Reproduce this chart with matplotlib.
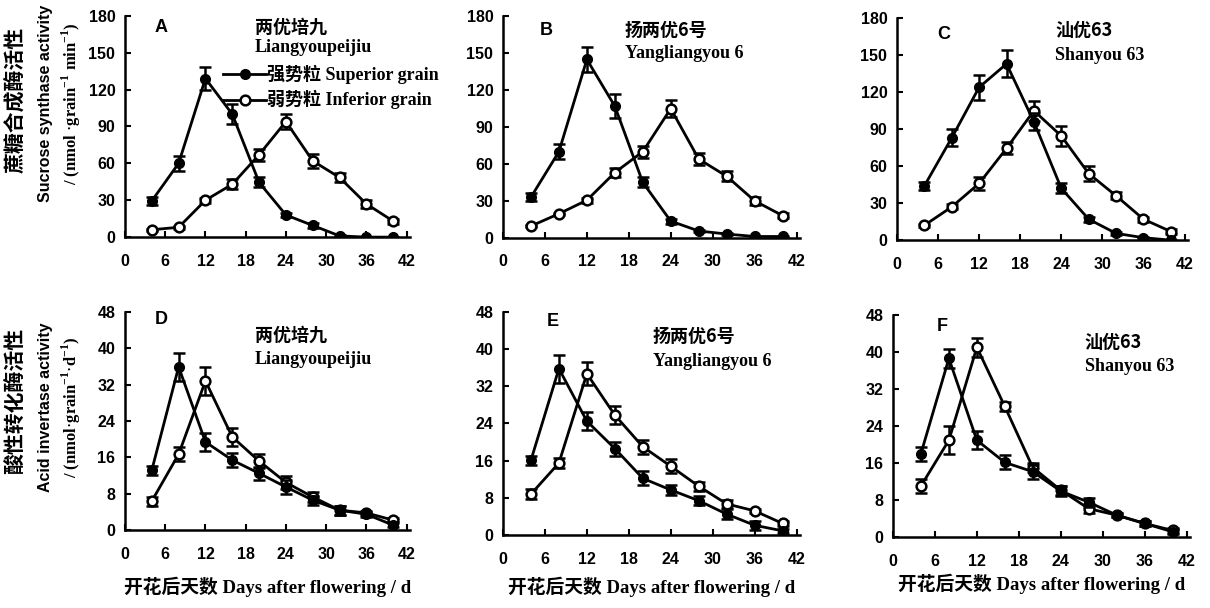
import matplotlib.pyplot as plt

plt.rcParams['font.family'] = ['Liberation Sans', 'Noto Sans CJK SC']

# 开花后天数
days = [4, 8, 12, 16, 20, 24, 28, 32, 36, 40]

# 蔗糖合成酶活性 (A, B, C)
ss_sup_A = [29.5, 60, 129, 100, 44.5, 18, 9.5, 1, 0, 0]
ss_sup_A_err = [3, 6, 9, 8, 4, 2, 2, 1, 0.5, 0.5]
ss_inf_A = [6, 8, 30, 43, 67, 94, 62, 48.5, 27, 13]
ss_inf_A_err = [1, 1, 2, 4, 5, 6, 6, 4, 3, 2]

ss_sup_B = [33, 70, 145, 107, 45, 13.5, 5.5, 3, 1, 1]
ss_sup_B_err = [3, 6, 10, 10, 4, 2, 1, 1, 0.5, 0.5]
ss_inf_B = [9.5, 19.5, 30.5, 53, 70, 105, 64, 50, 30, 18]
ss_inf_B_err = [1, 1, 2, 4, 5, 7, 5, 4, 3, 2]

ss_sup_C = [44, 83, 124, 143, 96, 42, 17, 5.5, 2, 0]
ss_sup_C_err = [3, 7, 10, 11, 7, 4, 2, 1, 0.5, 0.5]
ss_inf_C = [12, 27, 46, 74.5, 105, 84.5, 54, 36, 17, 7]
ss_inf_C_err = [1, 2, 5, 5, 8, 8, 6, 3, 2, 2]

# 酸性转化酶活性 (D, E, F)
ai_sup_D = [13.2, 35.9, 19.4, 15.4, 12.5, 9.5, 6.6, 4.4, 3.5, 1.1]
ai_sup_D_err = [1, 3, 2, 1.5, 1.5, 1.5, 1, 1, 0.5, 0.5]
ai_inf_D = [6.4, 16.7, 32.8, 20.5, 15.2, 10.5, 7.3, 4.4, 3.8, 2.2]
ai_inf_D_err = [1, 1.5, 3, 2, 1.5, 1.5, 1, 1, 0.5, 0.5]

ai_sup_E = [16.1, 35.8, 24.5, 18.6, 12.2, 9.7, 7.4, 4.5, 2.1, 0.9]
ai_sup_E_err = [1, 3, 2, 1.5, 1.5, 1, 1, 1, 1, 0.5]
ai_inf_E = [8.8, 15.5, 34.7, 25.8, 19.0, 14.8, 10.5, 6.7, 5.2, 2.5]
ai_inf_E_err = [1, 1, 2.5, 2, 1.5, 1.5, 1, 0.8, 0.5, 0.5]

ai_sup_F = [18, 38.6, 20.9, 16.1, 14.1, 9.9, 7.5, 4.7, 2.9, 1.1]
ai_sup_F_err = [1.5, 2, 2, 1.5, 1.5, 1, 1, 0.5, 0.5, 0.5]
ai_inf_F = [11, 20.9, 41, 28.2, 15, 10.1, 6.1, 4.7, 2.9, 1.4]
ai_inf_F_err = [1.5, 3, 2, 1, 1, 1, 1, 0.5, 0.5, 0.5]

x_ticks = [0, 6, 12, 18, 24, 30, 36, 42]
ss_ticks = [0, 30, 60, 90, 120, 150, 180]
ai_ticks = [0, 8, 16, 24, 32, 40, 48]

cn = 'Noto Sans CJK SC'
serif = ['Liberation Serif', 'Noto Sans CJK SC']

fig = plt.figure(figsize=(12.1, 6.08), dpi=100)

# 面板位置 (left, bottom, width, height)
pos = {
    'A': [0.1033, 0.610, 0.2355, 0.364],
    'B': [0.4157, 0.609, 0.2455, 0.364],
    'C': [0.7413, 0.605, 0.2405, 0.365],
    'D': [0.1033, 0.128, 0.2355, 0.359],
    'E': [0.4157, 0.120, 0.2455, 0.367],
    'F': [0.7380, 0.117, 0.2455, 0.365],
}
xlabel_pad = {'D': 11, 'E': 7, 'F': 4}

panels = [
    ('A', ss_sup_A, ss_sup_A_err, ss_inf_A, ss_inf_A_err, ss_ticks, '两优培九', 'Liangyoupeijiu', (0.105, 0.945), (0.456, 0.95, 0.855)),
    ('B', ss_sup_B, ss_sup_B_err, ss_inf_B, ss_inf_B_err, ss_ticks, '扬两优6号', 'Yangliangyou 6', (0.125, 0.937), (0.41, 0.937, 0.833)),
    ('C', ss_sup_C, ss_sup_C_err, ss_inf_C, ss_inf_C_err, ss_ticks, '汕优63', 'Shanyou 63', (0.137, 0.925), (0.543, 0.946, 0.83)),
    ('D', ai_sup_D, ai_sup_D_err, ai_inf_D, ai_inf_D_err, ai_ticks, '两优培九', 'Liangyoupeijiu', (0.105, 0.963), (0.456, 0.894, 0.78)),
    ('E', ai_sup_E, ai_sup_E_err, ai_inf_E, ai_inf_E_err, ai_ticks, '扬两优6号', 'Yangliangyou 6', (0.148, 0.955), (0.505, 0.888, 0.776)),
    ('F', ai_sup_F, ai_sup_F_err, ai_inf_F, ai_inf_F_err, ai_ticks, '汕优63', 'Shanyou 63', (0.148, 0.946), (0.646, 0.874, 0.766)),
]

for name, sup, sup_err, inf, inf_err, yt, cn_name, en_name, lpos, tpos in panels:
    ax = fig.add_axes(pos[name])
    ax.errorbar(days, inf, yerr=inf_err, color='black', lw=2, marker='o', ms=7,
                mfc='white', mec='black', mew=1.8, capsize=4, elinewidth=1.8,
                capthick=1.8, zorder=2)
    ax.errorbar(days, sup, yerr=sup_err, color='black', lw=2, marker='o', ms=7,
                mfc='black', mec='black', capsize=4, elinewidth=1.8,
                capthick=1.8, zorder=3)
    ax.set_xlim(0, 42.5)
    ax.set_ylim(0, yt[-1])
    ax.set_xticks(x_ticks)
    ax.set_yticks(yt)
    ax.spines['top'].set_visible(False)
    ax.spines['right'].set_visible(False)
    ax.spines['left'].set_linewidth(1.8)
    ax.spines['bottom'].set_linewidth(1.8)
    ax.tick_params(direction='in', length=4, width=1.5, labelsize=11.5)
    ax.tick_params(axis='x', pad=12)
    ax.tick_params(axis='y', pad=7)
    for lab in ax.get_xticklabels() + ax.get_yticklabels():
        lab.set_fontweight('bold')
    ax.text(lpos[0], lpos[1], name, transform=ax.transAxes, fontsize=13,
            fontweight='bold', ha='left', va='center')
    ax.text(tpos[0], tpos[1], cn_name, transform=ax.transAxes, fontsize=13,
            family=cn, fontweight='bold', ha='left', va='center')
    ax.text(tpos[0], tpos[2], en_name, transform=ax.transAxes, fontsize=13,
            family=serif, fontweight='bold', ha='left', va='center')
    if name in xlabel_pad:
        ax.set_xlabel('开花后天数 Days after flowering / d', family=['Liberation Serif', cn],
                      fontsize=13.5, fontweight='bold', labelpad=xlabel_pad[name])
    if name == 'A':
        # 图例
        ax.plot([0.345, 0.42, 0.495], [0.735] * 3, color='black', lw=2, marker='o', ms=7,
                mfc='black', markevery=[1], transform=ax.transAxes, clip_on=False)
        ax.plot([0.345, 0.42, 0.495], [0.62] * 3, color='black', lw=2, marker='o', ms=7,
                mfc='white', mew=1.8, markevery=[1], transform=ax.transAxes, clip_on=False)
        ax.text(0.50, 0.735, '强势粒 Superior grain', transform=ax.transAxes,
                family=serif, fontsize=13, fontweight='bold', va='center')
        ax.text(0.50, 0.62, '弱势粒 Inferior grain', transform=ax.transAxes,
                family=serif, fontsize=13, fontweight='bold', va='center')

# 纵轴标题
fig.text(0.013, 0.835, '蔗糖合成酶活性', rotation=90, family=cn, fontsize=15,
         fontweight='bold', ha='center', va='center')
fig.text(0.038, 0.83, 'Sucrose synthase activity', rotation=90, fontsize=11.5,
         fontweight='bold', ha='center', va='center')
fig.text(0.059, 0.83, r'/ (nmol $\cdot$grain$^{\mathregular{-1}}$ min$^{\mathregular{-1}}$)',
         rotation=90, family='Liberation Serif', fontsize=12, fontweight='bold',
         ha='center', va='center')

fig.text(0.013, 0.34, '酸性转化酶活性', rotation=90, family=cn, fontsize=15,
         fontweight='bold', ha='center', va='center')
fig.text(0.038, 0.33, 'Acid invertase activity', rotation=90, fontsize=11.5,
         fontweight='bold', ha='center', va='center')
fig.text(0.059, 0.33, r'/ (nmol$\cdot$grain$^{\mathregular{-1}}$$\cdot$d$^{\mathregular{-1}}$)',
         rotation=90, family='Liberation Serif', fontsize=12, fontweight='bold',
         ha='center', va='center')

fig.savefig('out.png', dpi=100)
